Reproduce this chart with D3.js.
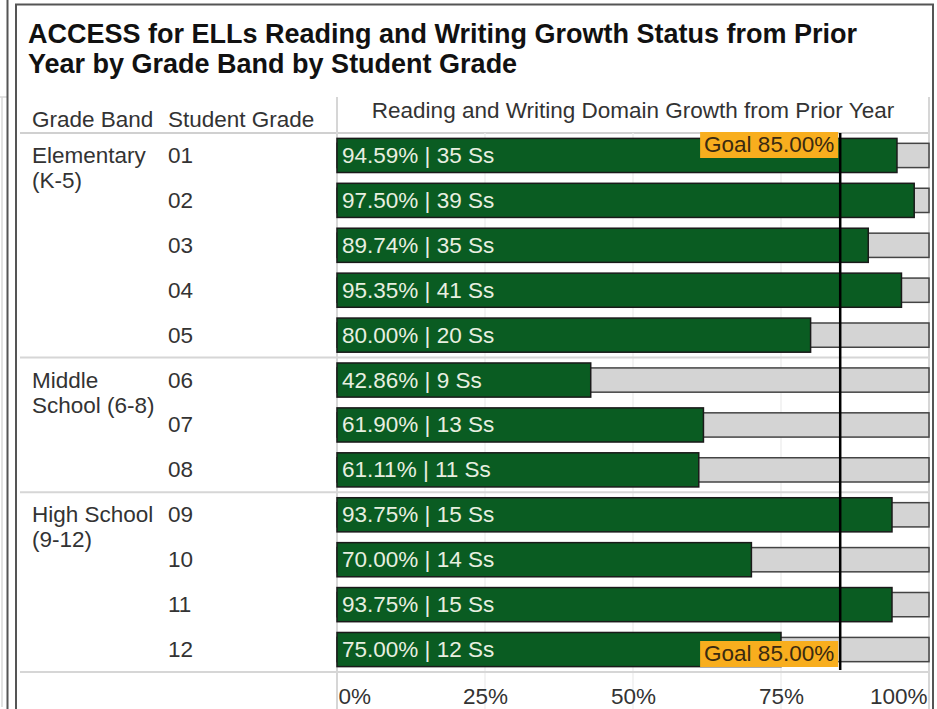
<!DOCTYPE html>
<html>
<head>
<meta charset="utf-8">
<script src="https://cdn.jsdelivr.net/npm/d3@7"></script>
<style>
  body { margin: 0; background: #fff; }
  svg { display: block; font-family: "Liberation Sans", Arial, sans-serif; }
</style>
</head>
<body>
<div id="chart"></div>
<script>
// data
const grades = ["01", "02", "03", "04", "05", "06", "07", "08", "09", "10", "11", "12"];
const gradeBands = ["ES", "ES", "ES", "ES", "ES", "MS", "MS", "MS", "HS", "HS", "HS", "HS"];
const pctGrowth = [94.59, 97.5, 89.74, 95.35, 80.0, 42.86, 61.9, 61.11, 93.75, 70.0, 93.75, 75.0];
const studentCounts = [35, 39, 35, 41, 20, 9, 13, 11, 15, 14, 15, 12];
const bandNames = ["ES", "MS", "HS"];
const bandLabels = [["Elementary", "(K-5)"], ["Middle", "School (6-8)"], ["High School", "(9-12)"]];
const goalPct = 85;
const xTicks = [0, 25, 50, 75, 100];

const data = grades.map((g, i) => ({
  grade: g,
  band: gradeBands[i],
  pct: pctGrowth[i],
  n: studentCounts[i]
}));

const W = 937, H = 709;
const paneLeft = 337, paneRight = 929, paneTop = 133, paneBottom = 672;
const fs = "22.5px";

const svg = d3.select("#chart")
  .append("svg")
  .attr("width", W)
  .attr("height", H);

// scales
const x = d3.scaleLinear().domain([0, 100]).range([paneLeft, paneRight]);
const y = d3.scaleBand().domain(grades).range([paneTop, paneBottom]).padding(0);
const step = y.step();
const barH = step * 0.76;
const bgH = step * 0.54;

// frames of the dashboard
svg.append("line").attr("x1", 2).attr("x2", 2).attr("y1", 97).attr("y2", 707)
  .attr("stroke", "#d8d8d8").attr("stroke-width", 1.5);
svg.append("line").attr("x1", 0).attr("x2", 7).attr("y1", 97).attr("y2", 97)
  .attr("stroke", "#d8d8d8").attr("stroke-width", 1.5);
svg.append("line").attr("x1", 7.5).attr("x2", 7.5).attr("y1", 0).attr("y2", H)
  .attr("stroke", "#555").attr("stroke-width", 2);
svg.append("path")
  .attr("d", `M16,${H} V4.5 H933 V${H}`)
  .attr("fill", "none").attr("stroke", "#555").attr("stroke-width", 2);

// title
const title = svg.append("text")
  .attr("x", 28)
  .attr("y", 43)
  .style("font-size", "27px")
  .style("font-weight", "bold")
  .attr("fill", "#111");
title.append("tspan").attr("x", 28).text("ACCESS for ELLs Reading and Writing Growth Status from Prior");
title.append("tspan").attr("x", 28).attr("dy", 30).text("Year by Grade Band by Student Grade");

// header lines
svg.append("line").attr("x1", 20).attr("x2", paneRight).attr("y1", paneTop).attr("y2", paneTop)
  .attr("stroke", "#d0d0d0").attr("stroke-width", 2);
svg.append("line").attr("x1", paneLeft).attr("x2", paneLeft).attr("y1", 97).attr("y2", H)
  .attr("stroke", "#d6d6d6").attr("stroke-width", 2);
svg.append("line").attr("x1", paneRight).attr("x2", paneRight).attr("y1", 97).attr("y2", H)
  .attr("stroke", "#d6d6d6").attr("stroke-width", 2);

// header texts
svg.append("text").attr("x", 32).attr("y", 127).style("font-size", fs).attr("fill", "#333")
  .text("Grade Band");
svg.append("text").attr("x", 168).attr("y", 127).style("font-size", fs).attr("fill", "#333")
  .text("Student Grade");
svg.append("text").attr("x", (paneLeft + paneRight) / 2).attr("y", 118)
  .attr("text-anchor", "middle").style("font-size", fs).attr("fill", "#333")
  .text("Reading and Writing Domain Growth from Prior Year");

// gridlines
svg.append("g")
  .selectAll("line")
  .data(xTicks.slice(1, -1))
  .join("line")
  .attr("x1", d => x(d)).attr("x2", d => x(d))
  .attr("y1", paneTop).attr("y2", H)
  .attr("stroke", "#efefef").attr("stroke-width", 1.5);

// group separators
const bandFirst = bandNames.map(b => data.find(d => d.band === b).grade);
svg.append("g")
  .selectAll("line")
  .data(bandFirst.slice(1))
  .join("line")
  .attr("x1", 20).attr("x2", paneRight)
  .attr("y1", d => y(d)).attr("y2", d => y(d))
  .attr("stroke", "#d6d6d6").attr("stroke-width", 2);
svg.append("line").attr("x1", 20).attr("x2", paneRight).attr("y1", paneBottom).attr("y2", paneBottom)
  .attr("stroke", "#d6d6d6").attr("stroke-width", 2);

// row labels
svg.append("g")
  .selectAll("text")
  .data(data)
  .join("text")
  .attr("x", 168)
  .attr("y", d => y(d.grade) + step / 2 + 7.5)
  .style("font-size", fs)
  .attr("fill", "#333")
  .text(d => d.grade);

const bandText = svg.append("g")
  .selectAll("text")
  .data(bandNames)
  .join("text")
  .attr("y", b => y(bandFirst[bandNames.indexOf(b)]) + step / 2 + 7.5)
  .style("font-size", fs)
  .attr("fill", "#333");
bandText.selectAll("tspan")
  .data((b, i) => bandLabels[i])
  .join("tspan")
  .attr("x", 32)
  .attr("dy", (d, i) => (i === 0 ? 0 : 25))
  .text(d => d);

// background (100%) bars
svg.append("g")
  .selectAll("rect")
  .data(data)
  .join("rect")
  .attr("x", x(0))
  .attr("y", d => y(d.grade) + (step - bgH) / 2)
  .attr("width", x(100) - x(0))
  .attr("height", bgH)
  .attr("fill", "#d4d4d4")
  .attr("stroke", "#444")
  .attr("stroke-width", 1.5);

// value bars
svg.append("g")
  .selectAll("rect")
  .data(data)
  .join("rect")
  .attr("x", x(0))
  .attr("y", d => y(d.grade) + (step - barH) / 2)
  .attr("width", d => x(d.pct) - x(0))
  .attr("height", barH)
  .attr("fill", "#0a5c22")
  .attr("stroke", "#1a1a1a")
  .attr("stroke-width", 1.5);

// bar labels
svg.append("g")
  .selectAll("text")
  .data(data)
  .join("text")
  .attr("x", x(0) + 5)
  .attr("y", d => y(d.grade) + step / 2 + 7.5)
  .style("font-size", fs)
  .attr("fill", "#e8efe0")
  .text(d => `${d.pct.toFixed(2)}% | ${d.n} Ss`);

// goal line
svg.append("line")
  .attr("x1", x(goalPct)).attr("x2", x(goalPct))
  .attr("y1", paneTop).attr("y2", paneBottom - 2)
  .attr("stroke", "#000").attr("stroke-width", 2.5);

// goal labels (top and bottom)
const goalText = `Goal ${goalPct.toFixed(2)}%`;
const goalTops = [paneTop - 1, paneBottom - 31];
goalTops.forEach(top => {
  const g = svg.append("g");
  const t = g.append("text")
    .attr("x", x(goalPct) - 6)
    .attr("y", top + 20)
    .attr("text-anchor", "end")
    .style("font-size", fs)
    .attr("fill", "#3a2a10")
    .text(goalText);
  const bb = t.node().getBBox();
  g.insert("rect", "text")
    .attr("x", bb.x - 4)
    .attr("y", top)
    .attr("width", x(goalPct) - 2 - (bb.x - 4))
    .attr("height", 26)
    .attr("fill", "#f8ae1e");
});

// x axis
const xAxis = svg.append("g")
  .attr("transform", `translate(0, ${paneBottom})`)
  .call(d3.axisBottom(x).tickValues(xTicks).tickFormat(d => d + "%").tickSize(0).tickPadding(16));
xAxis.select(".domain").remove();
xAxis.selectAll("text")
  .style("font-size", fs)
  .style("font-family", "\"Liberation Sans\", Arial, sans-serif")
  .attr("fill", "#333")
  .attr("text-anchor", d => (d === 0 ? "start" : d === 100 ? "end" : "middle"))
  .attr("dx", d => (d === 0 ? 1 : d === 100 ? -2 : 0));
</script>
</body>
</html>
